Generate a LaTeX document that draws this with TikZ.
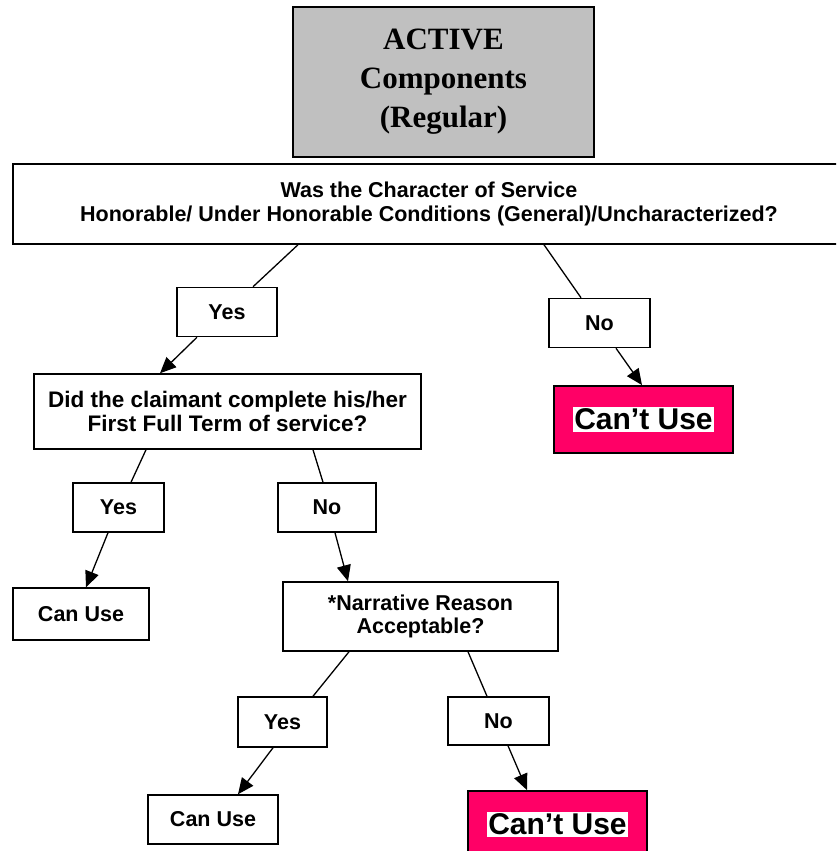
\documentclass[tikz,border=0pt]{standalone}
\usepackage{fontspec}
\setmainfont{Liberation Serif}
\setsansfont{Liberation Sans}
\usetikzlibrary{arrows.meta}
\definecolor{boxgray}{RGB}{192,192,192}
\definecolor{cantpink}{RGB}{255,0,102}
\setlength{\fboxsep}{1.5pt}
\tikzset{
    qbox/.style={rectangle, draw, line width=1.5pt, align=center, inner sep=0pt,
        font=\sffamily\bfseries\fontsize{21.5}{23.5}\selectfont},
    answer/.style={qbox, minimum height=49pt},
    cantuse/.style={rectangle, draw, line width=1.8pt, fill=cantpink, inner sep=0pt,
        minimum width=179pt, minimum height=67pt,
        font=\sffamily\bfseries\fontsize{30}{34}\selectfont},
    link/.style={line width=1.3pt},
    arrowlink/.style={line width=1.3pt, -{Triangle[length=16pt,width=14pt]}}
}
\begin{document}
\begin{tikzpicture}[x=1pt, y=-1pt]
        \clip (0,0) rectangle (836,851);
        \node (active) at (443.5, 82) [rectangle, draw, line width=2.5pt, fill=boxgray, align=center, minimum width=301pt, minimum height=150pt, font=\rmfamily\bfseries\fontsize{31}{39}\selectfont] {ACTIVE\\Components\\(Regular)};
        \node (q1) at (429, 204) [qbox, minimum width=832pt, minimum height=80pt] {Was the Character of Service\\Honorable/ Under Honorable Conditions (General)/Uncharacterized?};
        \node (yes1) at (227, 312) [answer, minimum width=100pt] {Yes};
        \node (no1) at (599.5, 323) [answer, minimum width=101pt] {No};
        \node (cant1) at (643.5, 419.5) [cantuse] {\colorbox{white}{Can’t Use}};
        \node (q2) at (227.5, 411.5) [qbox, minimum width=387pt, minimum height=75pt, font=\sffamily\bfseries\fontsize{22.5}{24}\selectfont] {Did the claimant complete his/her\\First Full Term of service?};
        \node (yes2) at (118.5, 507.5) [answer, minimum width=91pt] {Yes};
        \node (no2) at (327, 507.5) [answer, minimum width=98pt] {No};
        \node (use1) at (81, 614) [answer, minimum width=136pt, minimum height=52pt] {Can Use};
        \node (q3) at (420.5, 616.5) [qbox, minimum width=275pt, minimum height=69pt] {*Narrative Reason\\Acceptable?};
        \node (yes3) at (282.5, 722) [answer, minimum width=89pt, minimum height=50pt] {Yes};
        \node (no3) at (498.5, 721) [answer, minimum width=101pt, minimum height=48pt] {No};
        \node (use2) at (213, 819.5) [answer, minimum width=130pt] {Can Use};
        \node (cant2) at (557.5, 824.5) [cantuse] {\colorbox{white}{Can’t Use}};
        % first question
        \draw[link] ([xshift=-131pt]q1.south) -- ([xshift=26pt]yes1.north);
        \draw[arrowlink] ([xshift=-30pt]yes1.south) -- ([xshift=-67.5pt]q2.north);
        \draw[link] ([xshift=115pt]q1.south) -- ([xshift=-18.5pt]no1.north);
        \draw[arrowlink] ([xshift=16.5pt]no1.south) -- ([xshift=-1.5pt]cant1.north);
        % first full term
        \draw[link] ([xshift=-81.5pt]q2.south) -- ([xshift=12.5pt]yes2.north);
        \draw[arrowlink] ([xshift=-10.5pt]yes2.south) -- ([xshift=5pt]use1.north);
        \draw[link] ([xshift=85.5pt]q2.south) -- ([xshift=-4pt]no2.north);
        \draw[arrowlink] ([xshift=8pt]no2.south) -- ([xshift=-72.5pt]q3.north);
        % narrative reason
        \draw[link] ([xshift=-71.5pt]q3.south) -- ([xshift=30.5pt]yes3.north);
        \draw[arrowlink] ([xshift=-9.5pt]yes3.south) -- ([xshift=25pt]use2.north);
        \draw[link] ([xshift=47.5pt]q3.south) -- ([xshift=-11.5pt]no3.north);
        \draw[arrowlink] ([xshift=9.5pt]no3.south) -- ([xshift=-30.5pt]cant2.north);
    \end{tikzpicture}
\end{document}
